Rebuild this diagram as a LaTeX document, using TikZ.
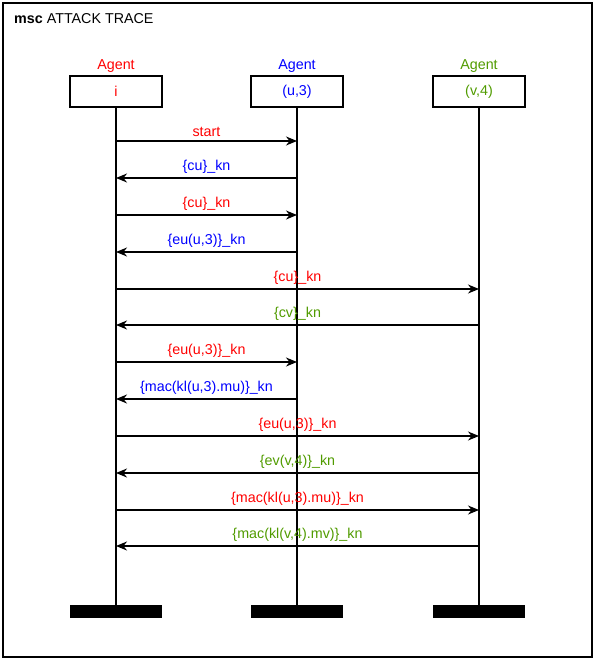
\documentclass[tikz,border=0pt]{standalone}
\usepackage{fontspec}
\setmainfont{Liberation Sans}
\usetikzlibrary{arrows.meta,positioning}

\definecolor{agred}{RGB}{255,0,0}
\definecolor{agblue}{RGB}{0,0,255}
\definecolor{aggreen}{RGB}{80,155,0}

\begin{document}
\begin{tikzpicture}[x=1pt,y=-1pt,
    every node/.style={font=\fontsize{14.3}{16}\selectfont},
    agentbox/.style={draw,line width=1.4pt,minimum width=92pt,minimum height=31pt,inner sep=0pt},
    stopbar/.style={fill=black,minimum width=92pt,minimum height=13pt,inner sep=0pt},
    life/.style={line width=1.4pt},
    msg/.style={line width=1.2pt,-{Stealth[length=11pt,width=9pt,inset=3.5pt]}},
    lbl/.style={midway,above=3pt,inner sep=1pt}]
        \useasboundingbox (0,0) rectangle (595,660);
        \draw[line width=1.4pt] (3,3) rectangle (592,657);
        \node[anchor=base west,inner sep=0pt] (title) at (14,24) {\textbf{msc} ATTACK TRACE};

        % agents
        \node[agentbox,text=agred] (i) at (116,91.5) {i};
        \node[agentbox,text=agblue] (u3) at (297,91.5) {(u,3)};
        \node[agentbox,text=aggreen] (v4) at (479,91.5) {(v,4)};
        \node[above=2pt of i,inner sep=1pt,text=agred] (ti) {Agent};
        \node[above=2pt of u3,inner sep=1pt,text=agblue] (tu3) {Agent};
        \node[above=2pt of v4,inner sep=1pt,text=aggreen] (tv4) {Agent};

        % ends
        \node[stopbar] (ei) at (116,611.5) {};
        \node[stopbar] (eu3) at (297,611.5) {};
        \node[stopbar] (ev4) at (479,611.5) {};
        \draw[life] (i) -- (ei);
        \draw[life] (u3) -- (eu3);
        \draw[life] (v4) -- (ev4);

        % messages
        \draw[msg] (i |- 0,141) -- (u3 |- 0,141) node[lbl,text=agred] {start};
        \draw[msg] (u3 |- 0,178) -- (i |- 0,178) node[lbl,text=agblue] {\{cu\}\_kn};
        \draw[msg] (i |- 0,215) -- (u3 |- 0,215) node[lbl,text=agred] {\{cu\}\_kn};
        \draw[msg] (u3 |- 0,252) -- (i |- 0,252) node[lbl,text=agblue] {\{eu(u,3)\}\_kn};
        \draw[msg] (i |- 0,289) -- (v4 |- 0,289) node[lbl,text=agred] {\{cu\}\_kn};
        \draw[msg] (v4 |- 0,325) -- (i |- 0,325) node[lbl,text=aggreen] {\{cv\}\_kn};
        \draw[msg] (i |- 0,362) -- (u3 |- 0,362) node[lbl,text=agred] {\{eu(u,3)\}\_kn};
        \draw[msg] (u3 |- 0,399) -- (i |- 0,399) node[lbl,text=agblue] {\{mac(kl(u,3).mu)\}\_kn};
        \draw[msg] (i |- 0,436) -- (v4 |- 0,436) node[lbl,text=agred] {\{eu(u,3)\}\_kn};
        \draw[msg] (v4 |- 0,473) -- (i |- 0,473) node[lbl,text=aggreen] {\{ev(v,4)\}\_kn};
        \draw[msg] (i |- 0,510) -- (v4 |- 0,510) node[lbl,text=agred] {\{mac(kl(u,3).mu)\}\_kn};
        \draw[msg] (v4 |- 0,546) -- (i |- 0,546) node[lbl,text=aggreen] {\{mac(kl(v,4).mv)\}\_kn};
\end{tikzpicture}
\end{document}
